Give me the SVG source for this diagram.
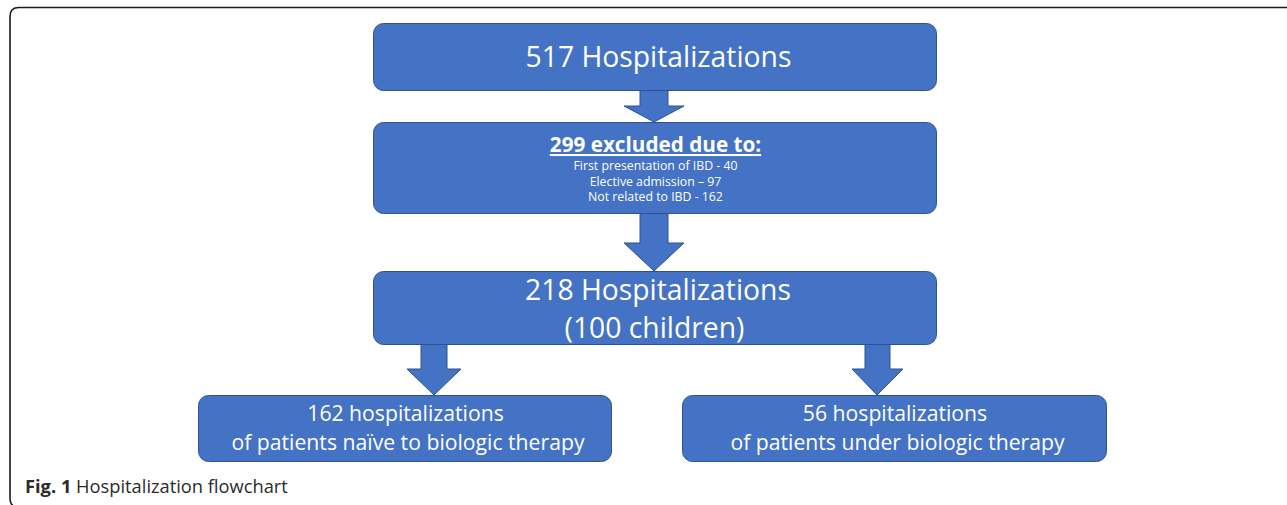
<svg xmlns="http://www.w3.org/2000/svg" width="1287" height="505" viewBox="0 0 1287 505">
  <style>
    .box { fill: #4472C4; stroke: #2F528F; stroke-width: 1; }
    .arrow { fill: #4472C4; stroke: #2F528F; stroke-width: 1; }
    .t { font-family: "Open Sans", "Noto Sans", sans-serif; fill: #FFFFFF; text-anchor: middle; }
    .big { font-size: 28.3px; }
    .mid { font-size: 21.2px; }
    .small { font-size: 12.3px; }
    .head { font-size: 20.7px; font-weight: bold; text-decoration: underline; }
    .cap { font-family: "Open Sans", "Noto Sans", sans-serif; font-size: 18.3px; fill: #2B2B2B; }
  </style>

  <rect width="1287" height="505" fill="#FFFFFF"/>
  <!-- figure frame; its bottom edge runs just below the canvas -->
  <path d="M1290 7.5 H19 Q10 7.5 10 16.5 V498 Q10 507.5 19 507.5 H1290" fill="none" stroke="#1A1A1A" stroke-width="1.6"/>

  <g id="connectors">
    <polygon class="arrow" points="640,90 668,90 668,106 684,106 654,122 624,106 640,106"/>
    <polygon class="arrow" points="640,213 668,213 668,243 684,243 654,271 624,243 640,243"/>
    <polygon class="arrow" points="421,344 447,344 447,369 461,369 434,395 407,369 421,369"/>
    <polygon class="arrow" points="865,344 890,344 890,369 903,369 877,395 852,369 865,369"/>
  </g>

  <g id="node-total">
    <rect class="box" x="373.5" y="23.5" width="563" height="67" rx="10"/>
    <text class="t big" x="658.5" y="67">517 Hospitalizations</text>
  </g>

  <g id="node-excluded">
    <rect class="box" x="373.5" y="122.5" width="563" height="91" rx="10"/>
    <text class="t head" x="655.5" y="152">299 excluded due to:</text>
    <text class="t small" x="655.5" y="170">First presentation of IBD - 40</text>
    <text class="t small" x="655.5" y="185.5">Elective admission – 97</text>
    <text class="t small" x="655.5" y="201">Not related to IBD - 162</text>
  </g>

  <g id="node-included">
    <rect class="box" x="373.5" y="271.5" width="563" height="73" rx="10"/>
    <text class="t big" x="658" y="300">218 Hospitalizations</text>
    <text class="t big" x="654.5" y="338">(100 children)</text>
  </g>

  <g id="node-naive">
    <rect class="box" x="198.5" y="395.5" width="413" height="66" rx="10"/>
    <text class="t mid" x="405.5" y="421">162 hospitalizations</text>
    <text class="t mid" x="408" y="450">of patients naïve to biologic therapy</text>
  </g>

  <g id="node-biologic">
    <rect class="box" x="682.5" y="395.5" width="424" height="66" rx="10"/>
    <text class="t mid" x="895" y="421">56 hospitalizations</text>
    <text class="t mid" x="897.5" y="450">of patients under biologic therapy</text>
  </g>

  <text class="cap" x="25" y="493"><tspan font-weight="bold">Fig. 1</tspan> Hospitalization flowchart</text>
</svg>
